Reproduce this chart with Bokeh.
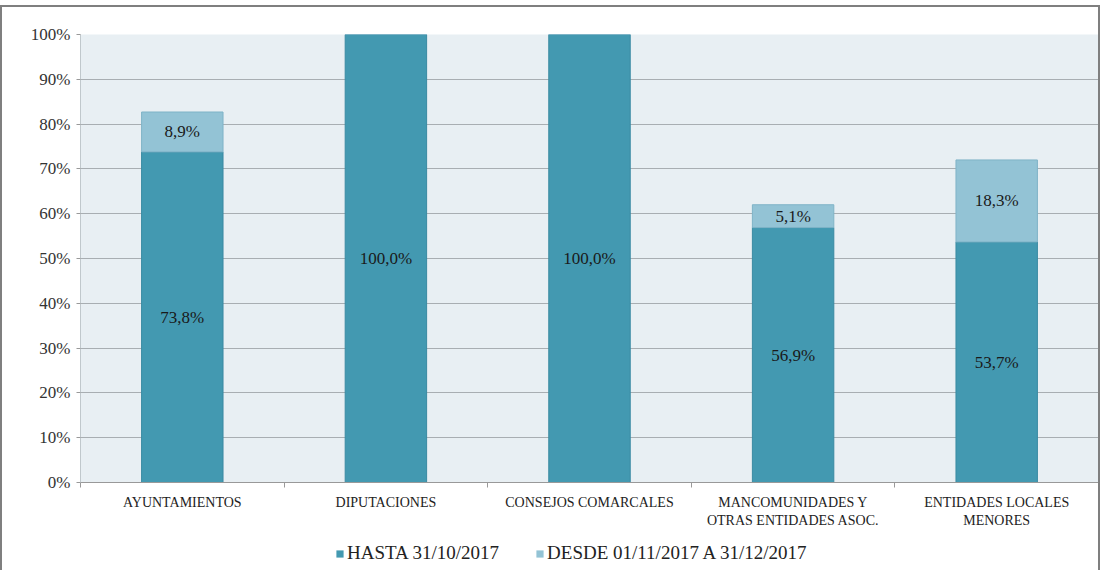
from bokeh.plotting import figure
from bokeh.layouts import column
from bokeh.models import ColumnDataSource, FixedTicker, PrintfTickFormatter, Legend, LegendItem, LabelSet, Range1d
from bokeh.embed import file_html
from bokeh.resources import INLINE

categories = ["AYUNTAMIENTOS", "DIPUTACIONES", "CONSEJOS COMARCALES",
              "MANCOMUNIDADES Y\nOTRAS ENTIDADES ASOC.", "ENTIDADES LOCALES\nMENORES"]
hasta = [73.8, 100.0, 100.0, 56.9, 53.7]
desde = [8.9, 0.0, 0.0, 5.1, 18.3]
series_names = ["HASTA 31/10/2017", "DESDE 01/11/2017 A 31/12/2017"]
y_ticks = [0, 10, 20, 30, 40, 50, 60, 70, 80, 90, 100]

DARK = "#4399b1"
LIGHT = "#93c3d5"
SERIF = "'Liberation Serif', 'Times New Roman', serif"

xs = [i + 0.5 for i in range(len(categories))]
src = ColumnDataSource(dict(x=xs, hasta=hasta, desde=desde))

p = figure(width=1096, height=530, output_backend="svg", toolbar_location=None,
           x_range=Range1d(0, len(categories)), y_range=Range1d(0, 100),
           min_border_left=78, min_border_right=0, min_border_top=27, min_border_bottom=55,
           background_fill_color="#e8eff3", border_fill_color="white")
p.outline_line_color = None

r = p.vbar_stack(["hasta", "desde"], x="x", width=0.4, source=src,
                 fill_color=[DARK, LIGHT], line_color=["#3a8aa2", "#7fb3c7"], line_width=1)

# labels
lab_h = ColumnDataSource(dict(x=xs, y=[v / 2 for v in hasta],
                              t=[("%.1f%%" % v).replace(".", ",") for v in hasta]))
lab_d_x, lab_d_y, lab_d_t = [], [], []
for x, h, d in zip(xs, hasta, desde):
    if d > 0:
        lab_d_x.append(x)
        lab_d_y.append(h + d / 2)
        lab_d_t.append(("%.1f%%" % d).replace(".", ","))
lab_d = ColumnDataSource(dict(x=lab_d_x, y=lab_d_y, t=lab_d_t))
for s in (lab_h, lab_d):
    p.add_layout(LabelSet(x="x", y="y", text="t", source=s, text_align="center",
                          text_baseline="middle", text_font=SERIF, text_font_size="17px",
                          text_color="#1a1a1a"))

# axes
p.yaxis.ticker = FixedTicker(ticks=y_ticks)
p.yaxis.formatter = PrintfTickFormatter(format="%d%%")
p.yaxis.major_label_text_font = SERIF
p.yaxis.major_label_text_font_size = "17px"
p.yaxis.major_label_text_color = "#333333"
p.yaxis.axis_line_color = "#c0c8cc"
p.yaxis.major_tick_line_color = "#999999"
p.yaxis.major_tick_out = 4
p.yaxis.major_tick_in = 0
p.yaxis.minor_tick_line_color = None
p.yaxis.major_label_standoff = 6

p.xaxis.ticker = FixedTicker(ticks=xs, minor_ticks=list(range(len(categories) + 1)))
p.xaxis.major_label_overrides = {x: c for x, c in zip(xs, categories)}
p.xaxis.major_label_text_font = SERIF
p.xaxis.major_label_text_font_size = "14px"
p.xaxis.major_label_text_color = "#222222"
p.xaxis.axis_line_color = "#999999"
p.xaxis.major_tick_line_color = None
p.xaxis.minor_tick_line_color = "#999999"
p.xaxis.minor_tick_out = 5
p.xaxis.minor_tick_in = 0
p.xaxis.major_label_standoff = 6

p.xgrid.grid_line_color = None
p.ygrid.ticker = FixedTicker(ticks=y_ticks)
p.ygrid.grid_line_color = "#a8aeb2"
p.ygrid.grid_line_width = 1

# legend strip (its bars lie far outside the visible ranges; only the legend shows)
lg = figure(width=1096, height=33, output_backend="svg", toolbar_location=None,
            x_range=Range1d(-100, -99), y_range=Range1d(500, 501),
            x_axis_type=None, y_axis_type=None,
            min_border=0, background_fill_color="white", border_fill_color="white")
lg.outline_line_color = None
lg.grid.grid_line_color = None
d1 = lg.vbar(x="x", top="hasta", bottom=0, width=0.4, source=src, fill_color=DARK, line_color=None)
d2 = lg.vbar(x="x", top="desde", bottom=0, width=0.4, source=src, fill_color=LIGHT, line_color=None)
legend = Legend(items=[LegendItem(label=series_names[0], renderers=[d1]),
                       LegendItem(label=series_names[1], renderers=[d2])],
                orientation="horizontal", location=(255, 6),
                label_text_font=SERIF, label_text_font_size="19px", label_text_color="#222222",
                glyph_width=9, glyph_height=9, label_standoff=3, spacing=36,
                background_fill_alpha=0, border_line_color=None, padding=2, margin=0)
lg.add_layout(legend, "center")

layout = column(p, lg, spacing=0,
                styles={"border-top": "2px solid #7f7f7f", "border-left": "2px solid #7f7f7f",
                        "border-right": "2px solid #7f7f7f", "margin-top": "5px"})

open("out.html", "w").write(file_html(layout, INLINE))
